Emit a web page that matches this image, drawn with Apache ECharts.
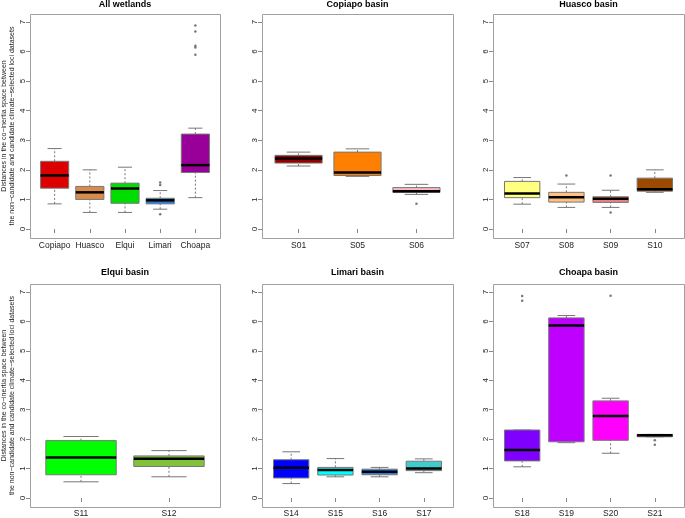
<!DOCTYPE html>
<html>
<head>
<meta charset="utf-8">
<script src="https://cdn.jsdelivr.net/npm/echarts@6/dist/echarts.min.js"></script>
<style>
html,body{margin:0;padding:0;background:#fff}
#main{width:685px;height:518px}
</style>
</head>
<body>
<div id="main"></div>
<script>
// box stats are [low whisker, Q1, median, Q3, high whisker]; outliers are [category index, value]
var allCats = ['Copiapo', 'Huasco', 'Elqui', 'Limari', 'Choapa'];
var allStats = [
    [0.85, 1.38, 1.81, 2.29, 2.72],
    [0.56, 1.00, 1.24, 1.44, 2.00],
    [0.56, 0.87, 1.37, 1.55, 2.09],
    [0.67, 0.85, 0.97, 1.04, 1.30],
    [1.06, 1.91, 2.16, 3.21, 3.41]
];
var allOut = [[3, 1.57], [3, 1.49], [3, 0.50], [4, 6.88], [4, 6.68], [4, 6.20], [4, 6.14], [4, 5.89]];

var copCats = ['S01', 'S05', 'S06'];
var copStats = [
    [2.13, 2.23, 2.38, 2.49, 2.60],
    [1.78, 1.81, 1.91, 2.60, 2.71],
    [1.17, 1.24, 1.28, 1.40, 1.51]
];
var copOut = [[2, 0.85]];

var husCats = ['S07', 'S08', 'S09', 'S10'];
var husStats = [
    [0.84, 1.06, 1.20, 1.61, 1.74],
    [0.73, 0.91, 1.07, 1.24, 1.52],
    [0.73, 0.90, 1.02, 1.09, 1.31],
    [1.24, 1.28, 1.34, 1.72, 2.00]
];
var husOut = [[1, 1.81], [2, 1.81], [2, 0.56]];

var elqCats = ['S11', 'S12'];
var elqStats = [
    [0.55, 0.79, 1.38, 1.95, 2.09],
    [0.72, 1.07, 1.33, 1.43, 1.61]
];
var elqOut = [];

var limCats = ['S14', 'S15', 'S16', 'S17'];
var limStats = [
    [0.49, 0.68, 1.03, 1.30, 1.57],
    [0.72, 0.78, 0.95, 1.04, 1.34],
    [0.72, 0.79, 0.89, 0.98, 1.04],
    [0.86, 0.93, 1.00, 1.25, 1.33]
];
var limOut = [];

var choCats = ['S18', 'S19', 'S20', 'S21'];
var choStats = [
    [1.06, 1.26, 1.63, 2.31, 2.31],
    [1.88, 1.91, 5.86, 6.12, 6.20],
    [1.52, 1.96, 2.79, 3.30, 3.39],
    [2.08, 2.08, 2.13, 2.16, 2.16]
];
var choOut = [[0, 6.86], [0, 6.70], [2, 6.87], [3, 1.96], [3, 1.81]];

var yTitle1 = 'Distances in the co\u2212inertia space between';
var yTitle2 = 'the non\u2212candidate and candidate climate\u2212selected loci datasets';

var panels = [
    {title: 'All wetlands', cats: allCats, stats: allStats, out: allOut,
        colors: ['#DD0000', '#D98C4A', '#00DD00', '#1F7FE6', '#990099']},
    {title: 'Copiapo basin', cats: copCats, stats: copStats, out: copOut,
        colors: ['#990000', '#FF8000', '#FFB6C1']},
    {title: 'Huasco basin', cats: husCats, stats: husStats, out: husOut,
        colors: ['#FFFF80', '#FFC080', '#F08080', '#9C4A00']},
    {title: 'Elqui basin', cats: elqCats, stats: elqStats, out: elqOut,
        colors: ['#00FF00', '#80C33A']},
    {title: 'Limari basin', cats: limCats, stats: limStats, out: limOut,
        colors: ['#0000FF', '#00FFFF', '#1F7FE6', '#40CCCC']},
    {title: 'Choapa basin', cats: choCats, stats: choStats, out: choOut,
        colors: ['#7F00FF', '#BF00FF', '#FF00FF', '#B07FE0']}
];

// frame geometry (R style plot boxes)
var rows = [{top: 14, bottom: 238, y7: 22, y0: 229, t: 0}, {top: 284, bottom: 507, y7: 292, y0: 499, t: 268}];
var cols = [{x: 30, w: 190}, {x: 262, w: 191}, {x: 493, w: 191}];
var FONT = 'Liberation Sans';

function makeRender(colors) {
    return function (params, api) {
        var k = api.value(0);
        var x = api.coord([k, 0])[0];
        var hw = api.size([1, 0])[0] * 0.4;
        var yy = [1, 2, 3, 4, 5].map(function (d) { return api.coord([k, api.value(d)])[1]; });
        var grey = '#777';
        return {
            type: 'group',
            children: [
                {type: 'line', shape: {x1: x, y1: yy[0], x2: x, y2: yy[1]}, style: {stroke: grey, lineWidth: 1, lineDash: [2, 2]}},
                {type: 'line', shape: {x1: x, y1: yy[3], x2: x, y2: yy[4]}, style: {stroke: grey, lineWidth: 1, lineDash: [2, 2]}},
                {type: 'line', shape: {x1: x - hw / 2, y1: yy[0], x2: x + hw / 2, y2: yy[0]}, style: {stroke: grey, lineWidth: 1}},
                {type: 'line', shape: {x1: x - hw / 2, y1: yy[4], x2: x + hw / 2, y2: yy[4]}, style: {stroke: grey, lineWidth: 1}},
                {type: 'rect', shape: {x: x - hw, y: yy[3], width: 2 * hw, height: yy[1] - yy[3]},
                    style: {fill: colors[params.dataIndex], stroke: grey, lineWidth: 1}},
                {type: 'line', shape: {x1: x - hw, y1: yy[2], x2: x + hw, y2: yy[2]}, style: {stroke: '#000', lineWidth: 2.5}}
            ]
        };
    };
}

var grid = [], xAxis = [], yAxis = [], series = [], title = [], graphic = [];
panels.forEach(function (p, i) {
    var r = rows[Math.floor(i / 3)], c = cols[i % 3];
    var inset = c.w * 0.04 / 1.08;
    grid.push({left: c.x + inset, top: r.y7, width: c.w / 1.08, height: r.y0 - r.y7});
    xAxis.push({
        gridIndex: i, type: 'category', data: p.cats, boundaryGap: true,
        offset: r.bottom - r.y0,
        axisLine: {show: false},
        axisTick: {show: true, alignWithLabel: true, interval: 0, length: 4, lineStyle: {color: '#888'}},
        axisLabel: {fontSize: 8.5, color: '#222', margin: 3, interval: 0, fontFamily: FONT},
        splitLine: {show: false}
    });
    yAxis.push({
        gridIndex: i, type: 'value', min: 0, max: 7, interval: 1,
        offset: inset,
        axisLine: {show: false},
        axisTick: {show: true, length: 4, lineStyle: {color: '#888'}},
        axisLabel: {fontSize: 8, color: '#222', margin: 3, rotate: 90, fontFamily: FONT},
        splitLine: {show: false}
    });
    series.push({
        type: 'custom', xAxisIndex: i, yAxisIndex: i,
        data: p.stats.map(function (s, k) { return [k].concat(s); }),
        renderItem: makeRender(p.colors), silent: true
    });
    series.push({
        type: 'scatter', xAxisIndex: i, yAxisIndex: i, data: p.out,
        symbolSize: 2.5, itemStyle: {color: '#555'}, silent: true
    });
    title.push({
        text: p.title, left: c.x + c.w / 2, top: r.t, textAlign: 'center', padding: 0,
        textStyle: {fontSize: 9, fontWeight: 'bold', color: '#000', fontFamily: FONT}
    });
    graphic.push({
        type: 'rect', z: 10, silent: true,
        shape: {x: c.x + 0.5, y: r.top + 0.5, width: c.w, height: r.bottom - r.top},
        style: {fill: null, stroke: '#a0a0a0', lineWidth: 1}
    });
    if (i % 3 === 0) {
        var cy = (r.top + r.bottom) / 2;
        [[yTitle1, 4.5], [yTitle2, 12]].forEach(function (t) {
            graphic.push({
                type: 'text', x: t[1], y: cy, rotation: Math.PI / 2, silent: true,
                style: {text: t[0], font: '7px "' + FONT + '"', align: 'center', verticalAlign: 'middle', fill: '#222'}
            });
        });
    }
});

var myChart = echarts.init(document.getElementById('main'));
myChart.setOption({
    animation: false,
    backgroundColor: '#fff',
    title: title,
    grid: grid,
    xAxis: xAxis,
    yAxis: yAxis,
    series: series,
    graphic: graphic
});
</script>
</body>
</html>
